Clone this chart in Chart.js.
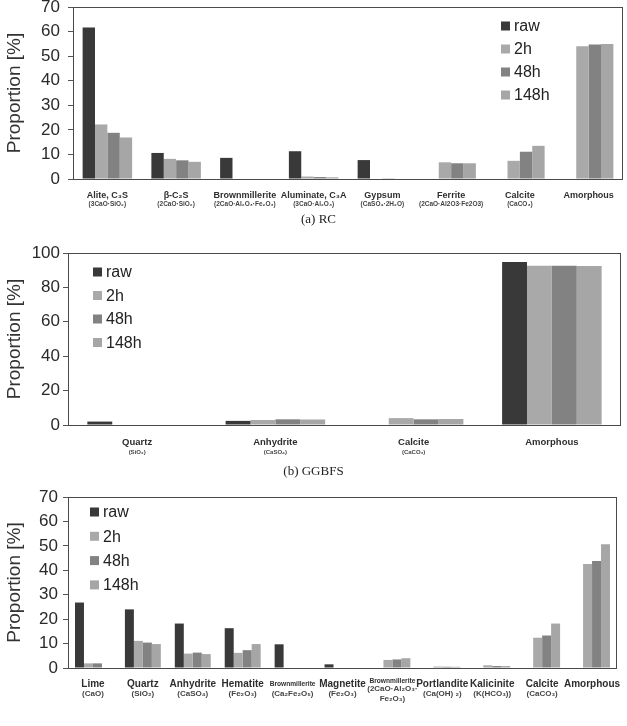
<!DOCTYPE html>
<html>
<head>
<meta charset="utf-8">
<script src="https://cdn.jsdelivr.net/npm/chart.js@4.4.1/dist/chart.umd.min.js"></script>
<style>
  body { margin: 0; background: #fff; }
  #wrap { position: relative; width: 627px; height: 726px; overflow: hidden; }
  .panel { position: absolute; left: 0; width: 627px; }
  .caption { position: absolute; left: 0; width: 627px; text-align: center; font: 13px 'Liberation Serif', 'Times New Roman', serif; color: #222; }
</style>
</head>
<body>
<div id="wrap">
  <div class="panel" style="top:0;height:215px"><canvas id="chartA"></canvas></div>
  <div class="caption" style="top:211px;left:5px">(a) RC</div>
  <div class="panel" style="top:240px;height:220px"><canvas id="chartB"></canvas></div>
  <div class="caption" style="top:463px">(b) GGBFS</div>
  <div class="panel" style="top:483px;height:243px"><canvas id="chartC"></canvas></div>
</div>
<script>
// Series (leyenda)
const seriesLabels = ['raw', '2h', '48h', '148h'];

// (a) RC
const namesA = ['Alite, C₃S', 'β-C₂S', 'Brownmillerite', 'Aluminate, C₃A', 'Gypsum', 'Ferrite', 'Calcite', 'Amorphous'];
const formulasA = ['(3CaO·SiO₂)', '(2CaO·SiO₂)', '(2CaO·Al₂O₃·Fe₂O₃)', '(3CaO·Al₂O₃)', '(CaSO₄·2H₂O)', '(2CaO·Al2O3·Fe2O3)', '(CaCO₃)', ''];
const rawA = [61.7, 10.6, 8.6, 11.3, 7.7, 0, 0, 0];
const h2A = [22.2, 8.2, 0, 1.0, 0, 6.8, 7.4, 54.0];
const h48A = [18.8, 7.6, 0, 0.8, 0.3, 6.4, 11.1, 54.7];
const h148A = [16.9, 7.0, 0, 0.7, 0.2, 6.4, 13.5, 54.9];
const yMaxA = 70, yStepA = 10;

// (b) GGBFS
const namesB = ['Quartz', 'Anhydrite', 'Calcite', 'Amorphous'];
const formulasB = ['(SiO₂)', '(CaSO₄)', '(CaCO₃)', ''];
const rawB = [2.0, 2.4, 0, 94.8];
const h2B = [0, 2.9, 4.0, 92.6];
const h48B = [0, 3.3, 3.3, 92.6];
const h148B = [0, 3.2, 3.5, 92.4];
const yMaxB = 100, yStepB = 20;

// (c)
const namesC = ['Lime', 'Quartz', 'Anhydrite', 'Hematite', 'Brownmillerite', 'Magnetite', 'Brownmillerite', 'Portlandite', 'Kalicinite', 'Calcite', 'Amorphous'];
const formulasC = ['(CaO)', '(SiO₂)', '(CaSO₄)', '(Fe₂O₃)', '(Ca₂Fe₂O₅)', '(Fe₂O₃)', '(2CaO·Al₂O₃·\nFe₂O₃)', '(Ca(OH) ₂)', '(K(HCO₃))', '(CaCO₃)', ''];
const rawC = [26.8, 24.0, 18.2, 16.3, 9.7, 1.5, 0, 0, 0, 0, 0];
const h2C = [1.9, 11.1, 5.9, 6.2, 0, 0, 3.3, 0.6, 1.1, 12.4, 42.6];
const h48C = [1.9, 10.4, 6.3, 7.3, 0, 0, 3.5, 0.5, 0.8, 13.3, 43.8];
const h148C = [0, 9.8, 5.7, 9.8, 0, 0, 4.0, 0.5, 0.8, 18.2, 50.7];
const yMaxC = 70, yStepC = 10;

const FONT = "'Liberation Sans', Arial, sans-serif";
const colors = ['#393939', '#a9a9a9', '#828282', '#a6a6a6']; // raw, 2h, 48h, 148h

Chart.defaults.font.family = FONT;
Chart.defaults.animation = false;

// Marco del área de la gráfica
const framePlugin = {
  id: 'frame',
  afterDatasetsDraw(chart) {
    const { ctx, chartArea: a } = chart;
    ctx.save();
    ctx.strokeStyle = '#4a4a4a';
    ctx.lineWidth = 1;
    ctx.strokeRect(a.left + 0.5, a.top + 0.5, a.right - a.left - 1, a.bottom - a.top);
    ctx.restore();
  }
};

// Etiquetas de categoría: nombre en negrita + fórmula pequeña
const labelPlugin = {
  id: 'twoLineLabels',
  afterDraw(chart, args, opts) {
    const { ctx, chartArea } = chart;
    const x = chart.scales.x;
    const n = chart.data.labels.length;
    const cw = (x.right - x.left) / n;
    const base = chartArea.bottom;
    ctx.save();
    ctx.textAlign = 'center';
    ctx.textBaseline = 'middle';
    chart.data.labels.forEach((name, i) => {
      const cx = x.getPixelForValue(i);
      const lines = (opts.formulas[i] || '').split('\n').filter(s => s);
      const shift = lines.length > 1 ? 5 : 0;
      let size = opts.nameSize;
      ctx.font = `bold ${size}px ${FONT}`;
      const w = ctx.measureText(name).width;
      if (w > cw * 1.15) {
        size = size * cw * 0.92 / w; // nombre demasiado largo, se achica
        ctx.font = `bold ${size}px ${FONT}`;
      }
      ctx.fillStyle = '#2e2e2e';
      ctx.fillText(name, cx, base + opts.nameGap - shift * 0.6);
      ctx.font = `bold ${opts.formulaSize}px ${FONT}`;
      ctx.fillStyle = '#444';
      lines.forEach((line, j) => {
        ctx.fillText(line, cx, base + opts.formulaGap - shift + j * opts.lineGap);
      });
    });
    ctx.restore();
  }
};

// Leyenda dibujada dentro del área
const legendPlugin = {
  id: 'boxLegend',
  afterDraw(chart, args, opts) {
    const { ctx, chartArea: a } = chart;
    const x0 = opts.fromRight ? a.right - opts.dx : a.left + opts.dx;
    ctx.save();
    ctx.font = `16px ${FONT}`;
    ctx.textAlign = 'left';
    ctx.textBaseline = 'middle';
    chart.data.datasets.forEach((ds, i) => {
      const y = a.top + opts.dy + i * opts.step;
      ctx.fillStyle = ds.backgroundColor;
      ctx.fillRect(x0, y - 4.5, 9, 9);
      ctx.fillStyle = '#222';
      ctx.fillText(ds.label, x0 + 13, y + 1);
    });
    ctx.restore();
  }
};

function makeChart(id, names, values, yMax, yStep, lay, labelOpts, legendOpts) {
  return new Chart(document.getElementById(id), {
    type: 'bar',
    data: {
      labels: names,
      datasets: seriesLabels.map((label, k) => ({
        label: label,
        data: values[k],
        backgroundColor: colors[k],
        borderWidth: 0,
        categoryPercentage: 0.72,
        barPercentage: 1.0
      }))
    },
    options: {
      responsive: true,
      maintainAspectRatio: false,
      layout: { padding: { top: lay.padTop, right: lay.padRight, left: 0, bottom: 0 } },
      plugins: {
        legend: { display: false },
        tooltip: { enabled: false },
        twoLineLabels: labelOpts,
        boxLegend: legendOpts
      },
      scales: {
        x: {
          ticks: { display: false },
          grid: { display: false },
          border: { display: false },
          afterFit: s => { s.height = lay.xHeight; }
        },
        y: {
          min: 0,
          max: yMax,
          ticks: { stepSize: yStep, color: '#2a2a2a', font: { size: 17 }, padding: lay.tickPad },
          grid: { drawOnChartArea: false, drawTicks: true, tickLength: 5, color: '#555' },
          border: { display: false },
          title: { display: true, text: 'Proportion [%]', color: '#333', font: { size: 19 }, padding: { top: 3, bottom: 0 } },
          afterFit: s => { s.width = lay.yWidth; s.paddingTop = 0; s.paddingBottom = 0; }
        }
      }
    },
    plugins: [framePlugin, labelPlugin, legendPlugin]
  });
}

makeChart('chartA', namesA, [rawA, h2A, h48A, h148A], yMaxA, yStepA,
  { padTop: 7, padRight: 4, yWidth: 73, xHeight: 36, tickPad: 8 },
  { formulas: formulasA, nameSize: 9, formulaSize: 6.5, nameGap: 17, formulaGap: 25, lineGap: 8 },
  { fromRight: true, dx: 122, dy: 19, step: 23 });

makeChart('chartB', namesB, [rawB, h2B, h48B, h148B], yMaxB, yStepB,
  { padTop: 13, padRight: 6, yWidth: 68, xHeight: 35, tickPad: 3 },
  { formulas: formulasB, nameSize: 9.5, formulaSize: 6, nameGap: 17, formulaGap: 27, lineGap: 8 },
  { fromRight: false, dx: 25, dy: 19, step: 23.5 });

makeChart('chartC', namesC, [rawC, h2C, h48C, h148C], yMaxC, yStepC,
  { padTop: 14, padRight: 10, yWidth: 68, xHeight: 58, tickPad: 5 },
  { formulas: formulasC, nameSize: 10, formulaSize: 8, nameGap: 16, formulaGap: 26, lineGap: 10 },
  { fromRight: false, dx: 22, dy: 15, step: 24.3 });
</script>
</body>
</html>
